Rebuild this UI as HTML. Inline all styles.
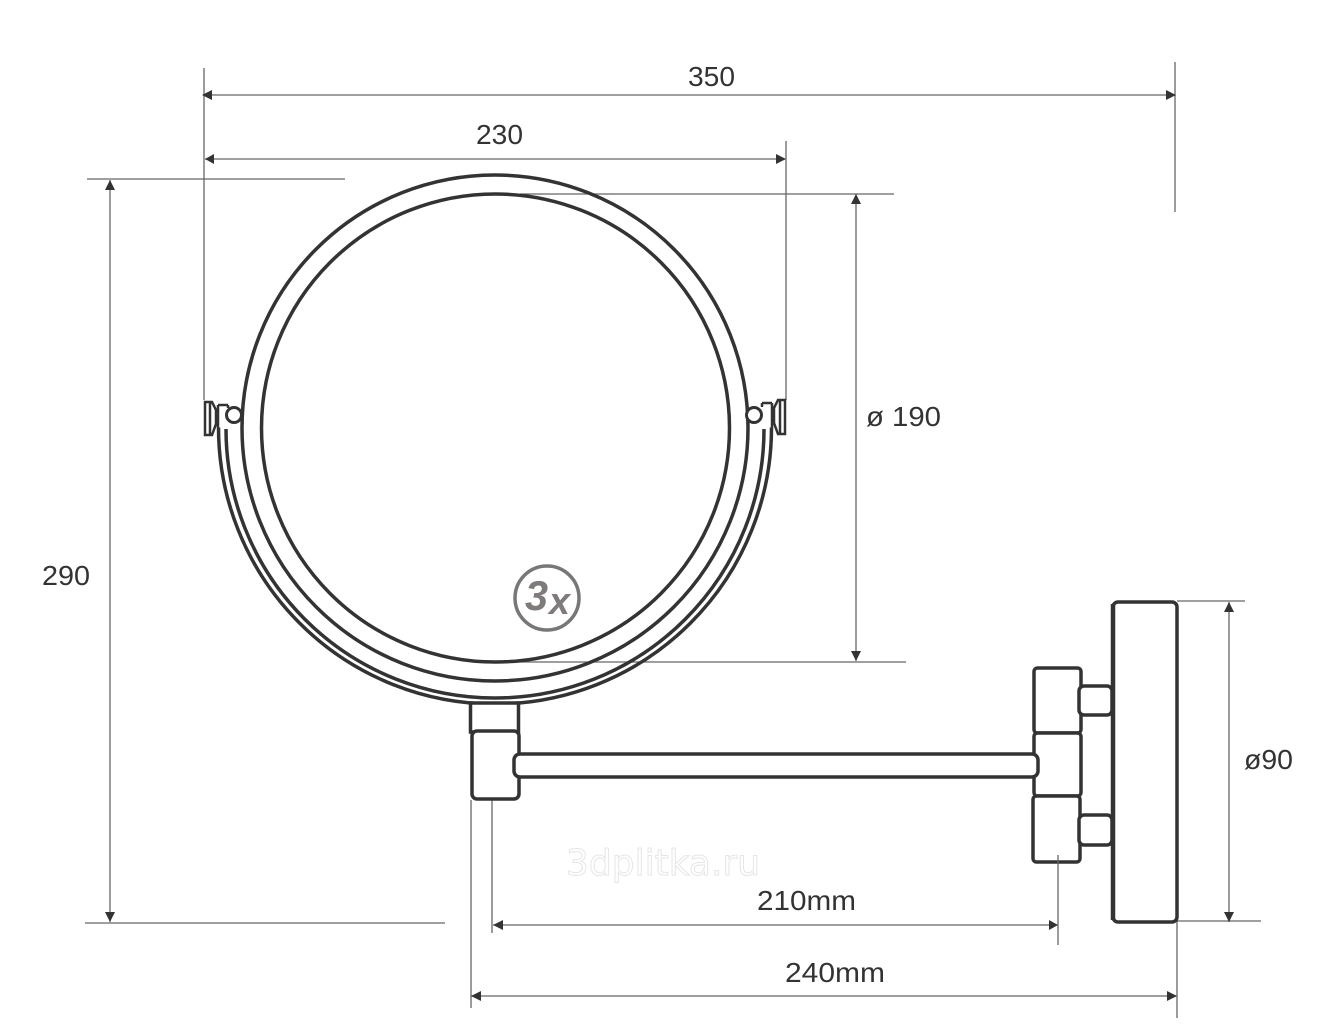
<!DOCTYPE html>
<html><head><meta charset="utf-8"><style>
html,body{margin:0;padding:0;background:#fff}
svg{display:block}
text{font-family:"Liberation Sans",sans-serif;font-size:28px;fill:#333}
</style></head><body>
<svg width="1325" height="1035" viewBox="0 0 1325 1035" xmlns="http://www.w3.org/2000/svg">
<rect width="1325" height="1035" fill="#fff"/>
<!-- dimension lines -->
<g stroke="#666" stroke-width="1.3" fill="none">
<path d="M204 68V400M786 141V400M1175 62V212"/>
<path d="M203 95H1175M205 159H785"/>
<path d="M87 179H345M110 180V922M85 923H445"/>
<path d="M520 194H894M856 194V661M494 662H906"/>
<path d="M1177 601H1245M1229 602V922M1177 921H1261"/>
<path d="M471 800V1008M492 800V933M493 925H1058"/>
<path d="M1177 921V1018M471 996H1176"/>
</g>
<!-- arrowheads -->
<g fill="#333">
<path d="M202 95l10-5v10zM1176 95l-10-5v10z"/>
<path d="M205 159l9-5v10zM786 159l-10-5v10z"/>
<path d="M110 180l-5 10h10zM110 922l-5-10h10z"/>
<path d="M856 194l-5 10h10zM856 661l-5-10h10z"/>
<path d="M1229 602l-5 10h10zM1229 922l-5-10h10z"/>
<path d="M493 925l10-5v10zM1058 925l-9-5v10z"/>
<path d="M471 996l10-5v10zM1177 996l-10-5v10z"/>
</g>
<!-- mirror -->
<g fill="none" stroke="#333">
<circle cx="495.500" cy="428" r="234" stroke-width="3.500"/>
<circle cx="495" cy="428" r="253" stroke-width="3.500"/>
<path d="M226 429A269 269 0 0 0 764 429" stroke-width="3.500"/>
<path d="M218.500 427.500A276.500 276.500 0 0 0 771.500 427.500" stroke-width="3.500"/>
<circle cx="234" cy="415" r="7.500" stroke-width="3" fill="#fff"/>
<circle cx="754" cy="415" r="7.500" stroke-width="3" fill="#fff"/>
<path d="M205 402L212 402L216 410V424L212 435H205ZM210 402V435M218 405H228M218 405V428M228 405V408" stroke-width="2.500" fill="#fff"/>
<path d="M785 400L778 400L774 408V423L778 434H785ZM780 400V434M772 403H762M772 403V428M762 403V407" stroke-width="2.500" fill="#fff"/>
</g>
<!-- lower stem -->
<g fill="#fff" stroke="#333" stroke-width="3.500">
<rect x="470.500" y="703" width="48" height="29"/>
<rect x="472" y="731" width="47" height="68" rx="5"/>
<rect x="1034" y="668" width="47" height="65" rx="3.500"/>
<rect x="1034" y="733" width="47" height="63" rx="3.500"/>
<rect x="1033" y="796" width="47" height="66" rx="3.500"/>
<rect x="1079" y="686" width="33" height="29" rx="5"/>
<rect x="1079" y="815" width="33" height="30" rx="5"/>
<rect x="1113" y="602" width="64" height="320" rx="5"/>
</g>
<rect x="514" y="754" width="524" height="23" rx="6" fill="#fff" stroke="#333" stroke-width="3.500"/>
<path d="M1113 604V920" stroke="#333" stroke-width="4.500"/>
<path d="M1058 855V945" stroke="#666" stroke-width="1.300" fill="none"/>
<!-- 3x badge -->
<circle cx="547" cy="598" r="32" fill="#fff" stroke="#777" stroke-width="3.500"/>
<text x="525" y="610" textLength="23" lengthAdjust="spacingAndGlyphs" style="font-size:42px;font-weight:bold;font-style:italic;fill:#807b7b">3</text>
<text x="549" y="614" textLength="21" lengthAdjust="spacingAndGlyphs" style="font-size:38px;font-weight:bold;font-style:italic;fill:#807b7b">x</text>
<!-- labels -->
<text x="688" y="86" textLength="47" lengthAdjust="spacingAndGlyphs">350</text>
<text x="476" y="144" textLength="47" lengthAdjust="spacingAndGlyphs">230</text>
<text x="42" y="585" textLength="48" lengthAdjust="spacingAndGlyphs">290</text>
<text x="866" y="426" textLength="75" lengthAdjust="spacingAndGlyphs">ø 190</text>
<text x="1244" y="769" textLength="49" lengthAdjust="spacingAndGlyphs">ø90</text>
<text x="757" y="910" textLength="99" lengthAdjust="spacingAndGlyphs">210mm</text>
<text x="785" y="982" textLength="100" lengthAdjust="spacingAndGlyphs">240mm</text>
<text x="566" y="875" textLength="194" lengthAdjust="spacingAndGlyphs" style="font-family:'DejaVu Sans',sans-serif;font-size:36px;fill:#fff;stroke:#e6e6e6;stroke-width:1">3dplitka.ru</text>
</svg>
</body></html>
